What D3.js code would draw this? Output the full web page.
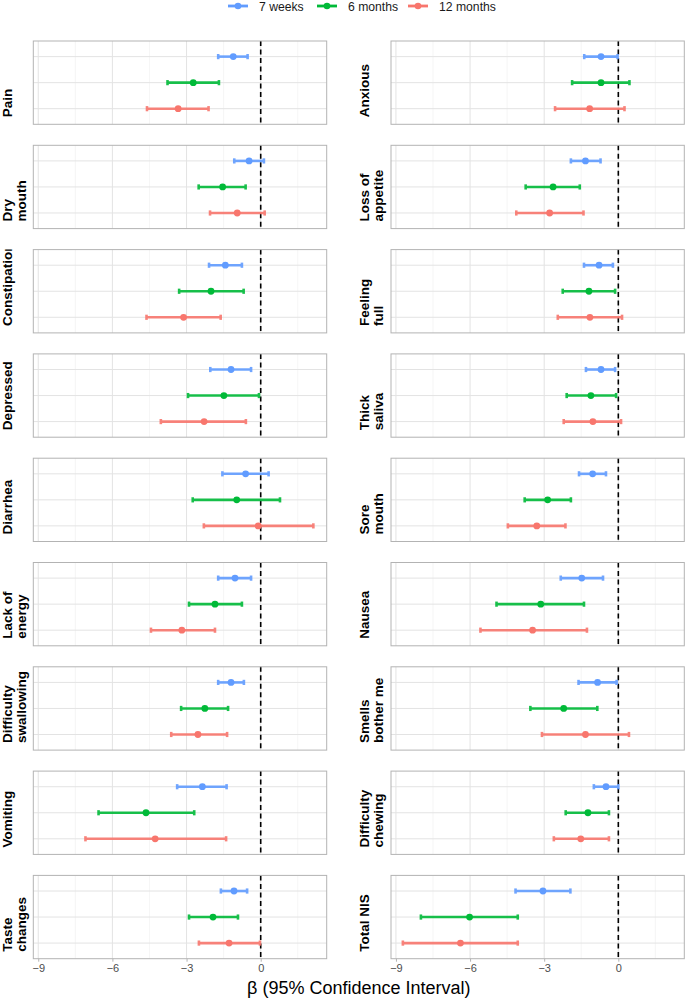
<!DOCTYPE html>
<html><head><meta charset="utf-8">
<script src="https://cdn.jsdelivr.net/npm/d3@7/dist/d3.min.js"></script>
<style>body{margin:0;background:#fff}svg{display:block;font-family:"Liberation Sans",Arial,sans-serif}</style>
</head><body><svg id="c" width="685" height="1001"></svg>
<script>
const symptoms = ["Pain","Dry\nmouth","Constipation","Depressed","Diarrhea","Lack of\nenergy","Difficulty\nswallowing","Vomiting","Taste\nchanges",
  "Anxious","Loss of\nappetite","Feeling\nfull","Thick\nsaliva","Sore\nmouth","Nausea","Smells\nbother me","Difficulty\nchewing","Total NIS"];
const series = ["7 weeks","6 months","12 months"];
const colors = ["#619CFF","#00BA38","#F8766D"];
const est7w = [-1.11,-0.47,-1.43,-1.20,-0.61,-1.04,-1.20,-2.36,-1.08,-0.70,-1.33,-0.78,-0.70,-1.04,-1.48,-0.84,-0.50,-3.05];
const lo7w  = [-1.72,-1.07,-2.09,-2.04,-1.55,-1.72,-1.72,-3.38,-1.61,-1.38,-1.92,-1.39,-1.31,-1.59,-2.33,-1.61,-0.99,-4.16];
const hi7w  = [-0.53,0.13,-0.76,-0.39,0.32,-0.39,-0.68,-1.38,-0.55,-0.03,-0.72,-0.22,-0.13,-0.50,-0.62,-0.07,0.00,-1.94];
const est6m = [-2.73,-1.54,-2.01,-1.49,-0.97,-1.85,-2.26,-4.64,-1.93,-0.70,-2.64,-1.19,-1.11,-2.86,-3.14,-2.21,-1.23,-6.02];
const lo6m  = [-3.77,-2.51,-3.30,-2.94,-2.75,-2.90,-3.22,-6.56,-2.90,-1.87,-3.75,-2.25,-2.09,-3.79,-4.93,-3.56,-2.13,-7.99];
const hi6m  = [-1.69,-0.61,-0.69,-0.07,0.78,-0.76,-1.32,-2.69,-0.92,0.45,-1.56,-0.13,-0.09,-1.92,-1.39,-0.85,-0.38,-4.07];
const est12m = [-3.34,-0.95,-3.12,-2.29,-0.10,-3.19,-2.54,-4.27,-1.28,-1.16,-2.78,-1.15,-1.03,-3.30,-3.47,-1.33,-1.52,-6.39];
const lo12m  = [-4.60,-2.05,-4.62,-4.04,-2.30,-4.44,-3.62,-7.09,-2.50,-2.56,-4.13,-2.45,-2.21,-4.47,-5.58,-3.09,-2.61,-8.72];
const hi12m  = [-2.11,0.16,-1.62,-0.60,2.13,-1.85,-1.36,-1.40,-0.03,0.25,-1.41,0.15,0.11,-2.14,-1.27,0.43,-0.38,-4.07];
const xTicks = [-9,-6,-3,0];
const xMinor = [-7.5,-4.5,-1.5,1.5];
const xTitle = "\u03B2 (95% Confidence Interval)";

const seriesData = [[est7w,lo7w,hi7w],[est6m,lo6m,hi6m],[est12m,lo12m,hi12m]];
const svg = d3.select("#c");
const nRows = 9, panelH = 83.3, rowStep = 104.3, top0 = 41;
const cols = [{x0:33.3,x1:326.7,textX:11.7},{x0:391,x1:684.3,textX:369.3}];
const domain = [-9.2, 2.67];

// legend
const legX = [238, 327, 418];
const legG = svg.append("g");
series.forEach((s,i)=>{
  const g = legG.append("g").attr("transform",`translate(${legX[i]},6)`);
  g.append("line").attr("x1",-10).attr("x2",10).attr("stroke",colors[i]).attr("stroke-width",2.8);
  g.append("circle").attr("r",3.3).attr("fill",colors[i]);
  g.append("text").attr("x",21).attr("y",5).attr("font-size",12.2).attr("fill","#1a1a1a").text(s);
});

const defs = svg.append("defs");
symptoms.forEach((name,k)=>{
  const c = Math.floor(k/nRows), r = k % nRows;
  const col = cols[c];
  const top = top0 + r*rowStep;
  const x = d3.scaleLinear().domain(domain).range([col.x0,col.x1]);
  const y = d3.scalePoint().domain(series).range([top, top+panelH]).padding(0.6);
  const g = svg.append("g");
  g.selectAll(".mn").data(xMinor).join("line")
    .attr("x1",d=>x(d)).attr("x2",d=>x(d)).attr("y1",top).attr("y2",top+panelH)
    .attr("stroke","#eeeeee").attr("stroke-width",0.6);
  g.selectAll(".mj").data(xTicks).join("line")
    .attr("x1",d=>x(d)).attr("x2",d=>x(d)).attr("y1",top).attr("y2",top+panelH)
    .attr("stroke","#e3e3e3").attr("stroke-width",1);
  g.selectAll(".hy").data(series).join("line")
    .attr("x1",col.x0).attr("x2",col.x1).attr("y1",d=>y(d)).attr("y2",d=>y(d))
    .attr("stroke","#e3e3e3").attr("stroke-width",1);
  g.append("line").attr("x1",x(0)).attr("x2",x(0)).attr("y1",top).attr("y2",top+panelH)
    .attr("stroke","#000").attr("stroke-width",1.6).attr("stroke-dasharray","5,3.5");
  series.forEach((s,i)=>{
    const [e,lo,hi] = seriesData[i];
    const yy = y(s);
    const eg = g.append("g").attr("stroke",colors[i]).attr("stroke-width",2.6).attr("opacity",0.9);
    eg.append("line").attr("x1",x(lo[k])).attr("x2",x(hi[k])).attr("y1",yy).attr("y2",yy);
    eg.append("line").attr("x1",x(lo[k])).attr("x2",x(lo[k])).attr("y1",yy-2.6).attr("y2",yy+2.6);
    eg.append("line").attr("x1",x(hi[k])).attr("x2",x(hi[k])).attr("y1",yy-2.6).attr("y2",yy+2.6);
    g.append("circle").attr("cx",x(e[k])).attr("cy",yy).attr("r",3.4).attr("fill",colors[i]);
  });
  g.append("rect").attr("x",col.x0).attr("y",top).attr("width",col.x1-col.x0).attr("height",panelH)
    .attr("fill","none").attr("stroke","#b3b3b3").attr("stroke-width",1);
  const cid = "clip"+k;
  defs.append("clipPath").attr("id",cid).append("rect")
    .attr("x",col.x0-34).attr("y",top).attr("width",34).attr("height",panelH);
  const lines = name.split("\n");
  const t = svg.append("g").attr("clip-path",`url(#${cid})`)
    .append("text").attr("transform",`translate(${col.textX},${top+panelH-7}) rotate(-90)`)
    .attr("font-size",13.5).attr("font-weight","bold").attr("fill","#000");
  lines.forEach((ln,j)=>{
    t.append("tspan").attr("x",0).attr("y",j*14).text(ln);
  });
  if (r === nRows-1) {
    const ax = svg.append("g").attr("transform",`translate(0,${top+panelH})`)
      .call(d3.axisBottom(x).tickValues(xTicks).tickSize(3).tickPadding(3).tickFormat(d3.format("d")));
    ax.select(".domain").remove();
    ax.selectAll(".tick line").attr("stroke","#b3b3b3");
    ax.selectAll(".tick text").attr("font-size",11).attr("fill","#4d4d4d")
      .attr("font-family","\"Liberation Sans\",Arial,sans-serif");
  }
});
svg.append("text").attr("x",(cols[0].x0+cols[1].x1)/2).attr("y",994).attr("text-anchor","middle")
  .attr("font-size",18).attr("fill","#000").text(xTitle);
</script></body></html>
